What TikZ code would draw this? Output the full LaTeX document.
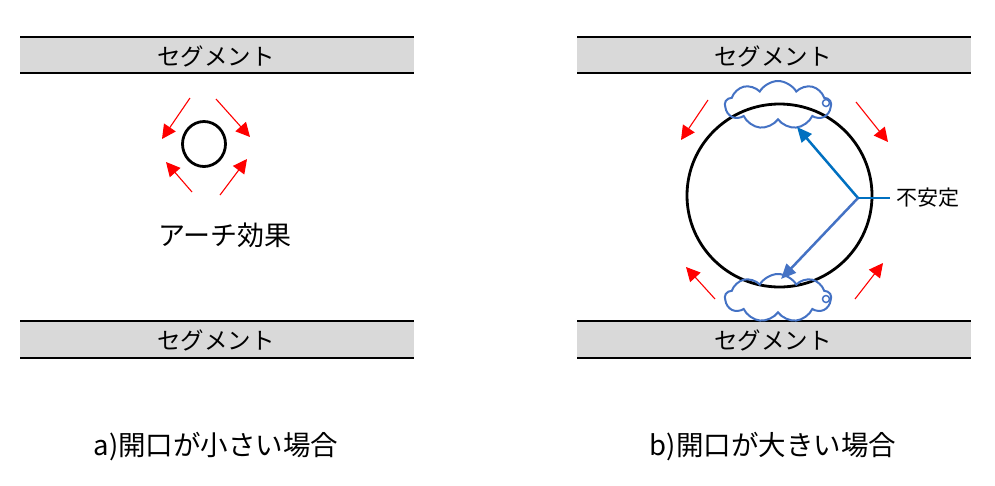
\documentclass[tikz,border=0pt]{standalone}
\usepackage{fontspec}
\setmainfont{Noto Sans CJK JP}
\usetikzlibrary{arrows.meta,shapes.symbols}
\definecolor{segfill}{RGB}{217,217,217}
\definecolor{cloudblue}{RGB}{68,114,196}
\definecolor{arrblue}{RGB}{0,112,192}
\begin{document}
\begin{tikzpicture}[x=1pt,y=-1pt,
  segbar/.style={fill=segfill,draw=none},
  segline/.style={line width=2pt,black},
  segtext/.style={font=\fontsize{23.5}{26}\selectfont,inner sep=0pt},
  redarr/.style={red,line width=1.1pt,-{Triangle[length=14pt,width=14pt]}},
  bluearr/.style={line width=2.5pt,-{Triangle[length=15pt,width=13pt]}},
  cloudshape/.style={cloud,cloud puffs=9,cloud puff arc=120,aspect=2.1,draw=cloudblue,line width=2pt,minimum width=106pt,minimum height=48pt,inner sep=0pt},
  caption/.style={font=\fontsize{27.5}{30}\selectfont,inner sep=0pt}
]
\useasboundingbox (0,0) rectangle (995,485);
% left segments
\fill[segbar] (20,37) rectangle (414,73);
\draw[segline] (20,37) -- (414,37) (20,73) -- (414,73);
\node[segtext] (segLT) at (216,56) {セグメント};
\fill[segbar] (20,321) rectangle (414,358);
\draw[segline] (20,321) -- (414,321) (20,358) -- (414,358);
\node[segtext] (segLB) at (216,340) {セグメント};
% right segments
\fill[segbar] (577,37) rectangle (971,73);
\draw[segline] (577,37) -- (971,37) (577,73) -- (971,73);
\node[segtext] (segRT) at (773,56) {セグメント};
\fill[segbar] (577,321) rectangle (971,358);
\draw[segline] (577,321) -- (971,321) (577,358) -- (971,358);
\node[segtext] (segRB) at (773,340) {セグメント};
% left small opening
\draw[line width=2.8pt] (204,144) ellipse [x radius=21.5, y radius=22.5];
\coordinate (la1) at (190,98);  \coordinate (la1t) at (162,139);
\coordinate (la2) at (216,99);  \coordinate (la2t) at (250,137);
\coordinate (la3) at (192,192); \coordinate (la3t) at (166,162);
\coordinate (la4) at (220,195); \coordinate (la4t) at (247,159);
\draw[redarr] (la1) -- (la1t);
\draw[redarr] (la2) -- (la2t);
\draw[redarr] (la3) -- (la3t);
\draw[redarr] (la4) -- (la4t);
\node[font=\fontsize{27}{30}\selectfont,inner sep=0pt] (arch) at (225,235) {アーチ効果};
% right large opening
\draw[line width=2.8pt] (779.5,195.5) ellipse [x radius=92.5, y radius=91.5];
\node[cloudshape] (cloudT) at (778,105) {};
\draw[cloudblue,line width=1.5pt] (826,103) circle (3.5);
\node[cloudshape] (cloudB) at (778,298) {};
\draw[cloudblue,line width=1.5pt] (826,299) circle (3.5);
\coordinate (ra1) at (708,100); \coordinate (ra1t) at (681,140);
\coordinate (ra2) at (856,102); \coordinate (ra2t) at (888,142);
\coordinate (ra3) at (715,299); \coordinate (ra3t) at (686,267);
\coordinate (ra4) at (855,299); \coordinate (ra4t) at (883,263);
\draw[redarr] (ra1) -- (ra1t);
\draw[redarr] (ra2) -- (ra2t);
\draw[redarr] (ra3) -- (ra3t);
\draw[redarr] (ra4) -- (ra4t);
\coordinate (vtx) at (858,198);
\coordinate (tipU) at (797,127);
\coordinate (tipD) at (781,279);
\coordinate (hend) at (890,198);
\draw[bluearr,arrblue] (vtx) -- (tipU);
\draw[bluearr,cloudblue] (vtx) -- (tipD);
\draw[arrblue,line width=2.5pt] (vtx) -- (hend);
\node[font=\fontsize{21}{24}\selectfont,inner sep=0pt,anchor=west] (unst) at (896,198) {不安定};
% captions
\node[caption] (capA) at (216,447) {a)開口が小さい場合};
\node[caption] (capB) at (773,447) {b)開口が大きい場合};
\end{tikzpicture}
\end{document}
